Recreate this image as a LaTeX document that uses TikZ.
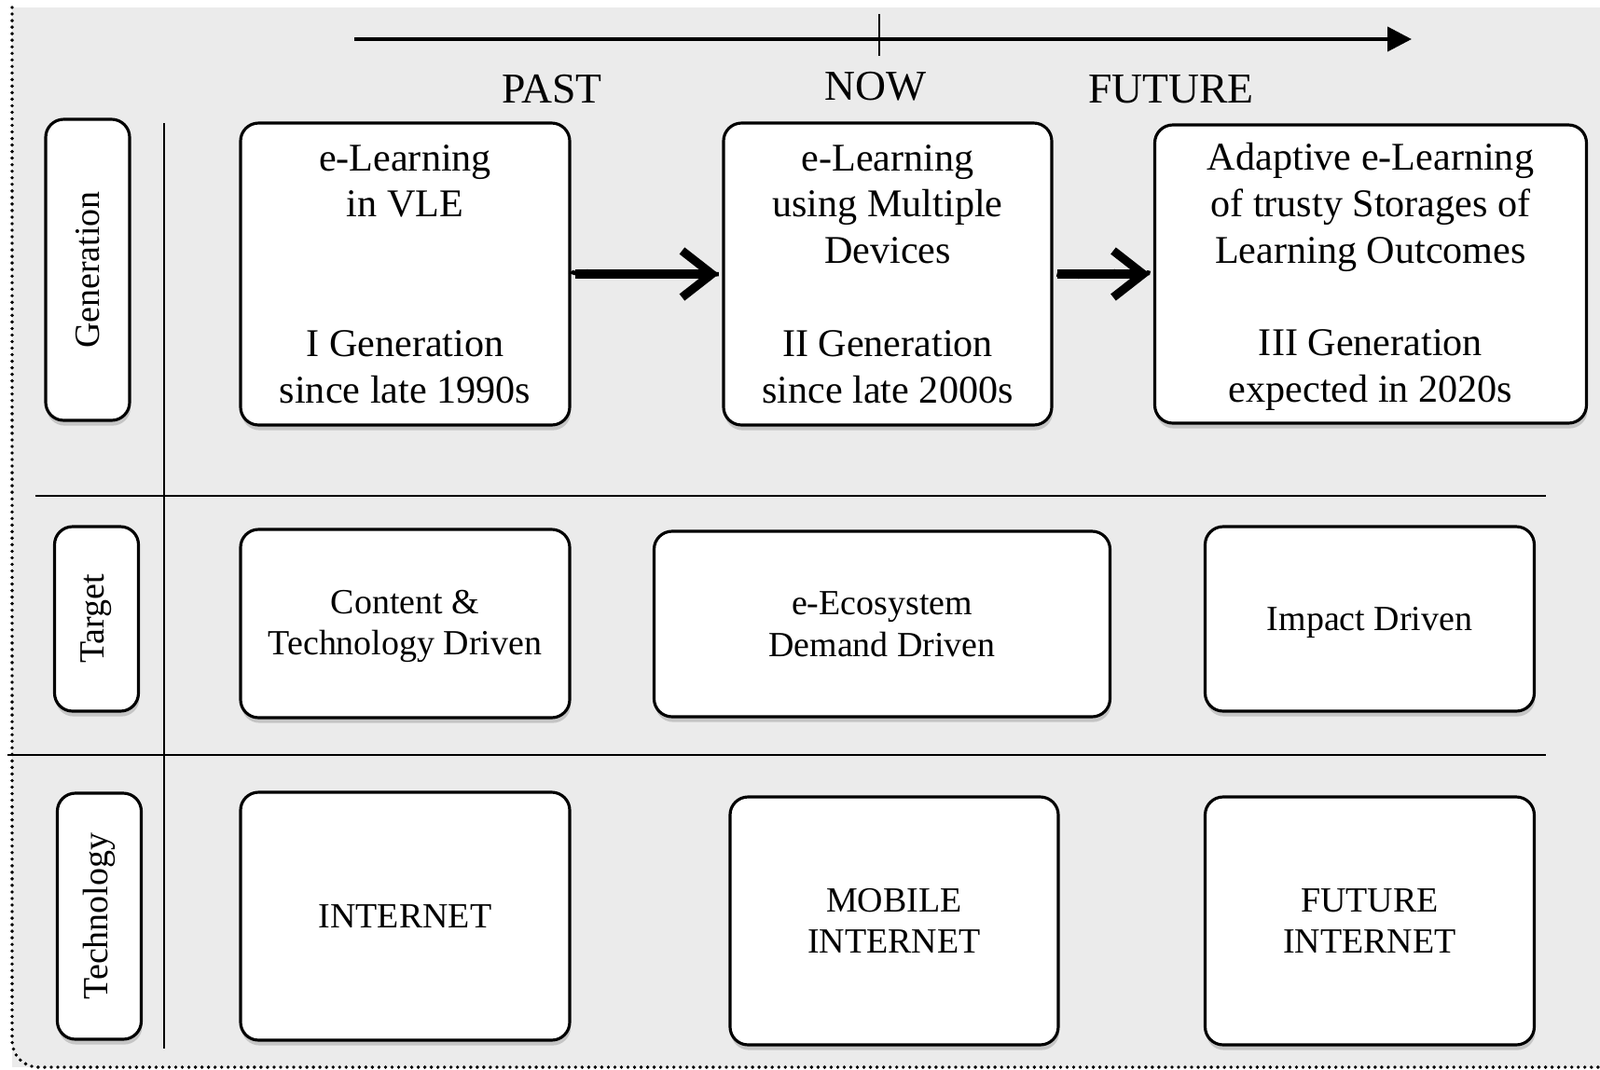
\documentclass[tikz,border=0pt]{standalone}
\usepackage{fontspec}
\setmainfont{Liberation Serif}
\usepackage{tikz}
\usetikzlibrary{arrows.meta}
\usetikzlibrary{shadows}
\usetikzlibrary{decorations.pathmorphing}

\definecolor{panelgray}{HTML}{EBEBEB}

\tikzset{
  box/.style={draw, line width=0.9pt, rounded corners=5.5pt, fill=white, align=center,
    drop shadow={shadow xshift=0.3pt, shadow yshift=-1.6pt, opacity=0.35}},
  genbox/.style={box, minimum height=3.24cm, font=\fontsize{12}{14.2}\selectfont},
  rowbox/.style={box, font=\fontsize{10.8}{12.7}\selectfont},
  rowlabel/.style={box, rotate=90, minimum height=0.9cm, font=\fontsize{10.8}{13}\selectfont},
  era/.style={font=\fontsize{13}{15}\selectfont},
  sketchy/.style={line width=2.6pt, shorten <=1.2pt, shorten >=1pt,
    -{Straight Barb[length=3.2mm, width=5mm]},
    postaction={draw, -, line width=1.3pt, decorate,
      decoration={random steps, segment length=1.2pt, amplitude=0.8pt}}}
}

\begin{document}
\begin{tikzpicture}
            \useasboundingbox (0,0) rectangle (17.16,-11.48);
            \fill[panelgray] (0.13,-0.08) rectangle (17.16,-11.45);
            \draw[line width=1.1pt, line cap=round, dash pattern=on 0pt off 2pt, rounded corners=8pt]
                (0.13,-0.08) -- (0.13,-11.45) -- (17.16,-11.45);

            % time line
            \coordinate (tl start) at (3.80,-0.42);
            \coordinate (tl end) at (15.14,-0.42);
            \coordinate (tick top) at (9.43,-0.15);
            \coordinate (tick bottom) at (9.43,-0.60);
            \draw[line width=1.2pt, -{Triangle[length=2.6mm, width=2.6mm]}] (tl start) -- (tl end);
            \draw[line width=0.7pt] (tick top) -- (tick bottom);
            \node[era] (past) at (5.92,-0.96) {PAST};
            \node[era] (now) at (9.39,-0.93) {NOW};
            \node[era] (future) at (12.56,-0.96) {FUTURE};

            % rows
            \draw[line width=0.7pt] (1.76,-1.32) -- (1.76,-11.25);
            \draw[line width=0.7pt] (0.38,-5.32) -- (16.58,-5.32);
            \draw[line width=0.7pt] (0.08,-8.10) -- (16.58,-8.10);

            \node[rowlabel, minimum width=3.23cm] (lab gen) at (0.94,-2.895) {Generation};
            \node[rowlabel, minimum width=1.98cm] (lab target) at (1.035,-6.64) {Target};
            \node[rowlabel, minimum width=2.64cm] (lab tech) at (1.065,-9.83) {Technology};

            \node[genbox, minimum width=3.53cm] (gen past) at (4.345,-2.94)
                {e-Learning\\in VLE\\~\\~\\I Generation\\since late 1990s};
            \node[genbox, minimum width=3.52cm] (gen now) at (9.52,-2.94)
                {e-Learning\\using Multiple\\Devices\\~\\II Generation\\since late 2000s};
            \node[genbox, minimum width=4.63cm, minimum height=3.20cm] (gen future) at (14.70,-2.94)
                {\rule{0pt}{10pt}Adaptive e-Learning\\of trusty Storages of\\Learning Outcomes\\~\\III Generation\\expected in 2020s};
            \draw[sketchy] (gen past) -- (gen now);
            \draw[sketchy] (gen now) -- (gen future);

            \node[rowbox, minimum width=3.53cm, minimum height=2.02cm] (target past) at (4.345,-6.69) {\strut Content \&\\Technology Driven};
            \node[rowbox, minimum width=4.89cm, minimum height=1.99cm] (target now) at (9.46,-6.695) {e-Ecosystem\\Demand Driven};
            \node[rowbox, minimum width=3.53cm, minimum height=1.98cm] (target future) at (14.69,-6.64) {\rule{0pt}{9.6pt}Impact Driven};

            \node[rowbox, minimum width=3.53cm, minimum height=2.66cm] (tech past) at (4.345,-9.83) {INTERNET};
            \node[rowbox, minimum width=3.52cm, minimum height=2.66cm] (tech now) at (9.59,-9.88) {MOBILE\\INTERNET};
            \node[rowbox, minimum width=3.53cm, minimum height=2.66cm] (tech future) at (14.69,-9.88) {FUTURE\\INTERNET};
        \end{tikzpicture}
\end{document}
